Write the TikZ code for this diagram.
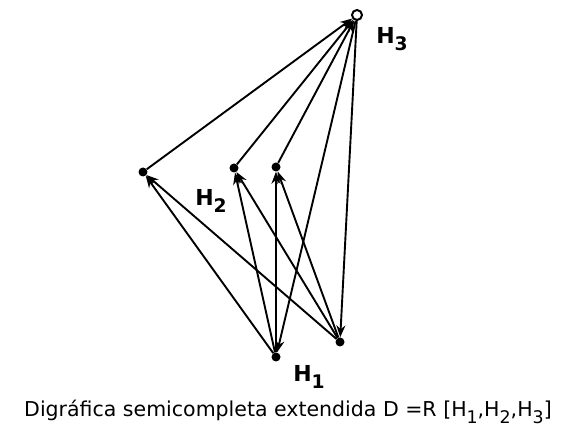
\documentclass[tikz,border=0pt]{standalone}
\usepackage{fontspec}
\setmainfont{DejaVu Sans}
\usepackage{tikz}
\usetikzlibrary{arrows.meta,positioning}

\newcommand{\idx}[1]{\raisebox{-0.55ex}{\fontsize{0.85em}{1em}\selectfont #1}}

\begin{document}
\begin{tikzpicture}[x=1pt,y=-1pt,
    vertex/.style={circle, fill=black, inner sep=0pt, minimum size=9pt},
    apex/.style={circle, draw, line width=2pt, fill=white, inner sep=0pt, minimum size=10pt},
    lbl/.style={font=\fontsize{22}{22}\selectfont\bfseries},
    arrow/.style={-{Stealth[length=12pt,width=9pt]}, line width=1.9pt}
]
\useasboundingbox (0,0) rectangle (571,435);

% vertices
\node[apex]   (h3) at (357,15)  {};
\node[vertex] (a)  at (143,172) {};
\node[vertex] (b)  at (234,168) {};
\node[vertex] (c)  at (276,167) {};
\node[vertex] (d)  at (276,357) {};
\node[vertex] (e)  at (340,342) {};

% labels
\node[lbl] (l3) at (392,39)  {H\idx{3}};
\node[lbl] (l2) at (211,201) {H\idx{2}};
\node[lbl] (l1) at (309,377) {H\idx{1}};

% arcs
\draw[arrow] (a) -- (h3);
\draw[arrow] (b) -- (h3);
\draw[arrow] (c) -- (h3);
\draw[arrow] (h3) -- (d);
\draw[arrow] (h3) -- (e);
\draw[arrow] (d) -- (a);
\draw[arrow] (e) -- (a);
\draw[arrow] (d) -- (b);
\draw[arrow] (e) -- (b);
\draw[arrow] (d) -- (c);
\draw[arrow] (e) -- (c);

\node[font=\fontsize{20.5}{20.5}\selectfont] (cap) at (288,412)
  {Digráfica semicompleta extendida D =R [H\idx{1},H\idx{2},H\idx{3}]};
\end{tikzpicture}
\end{document}
